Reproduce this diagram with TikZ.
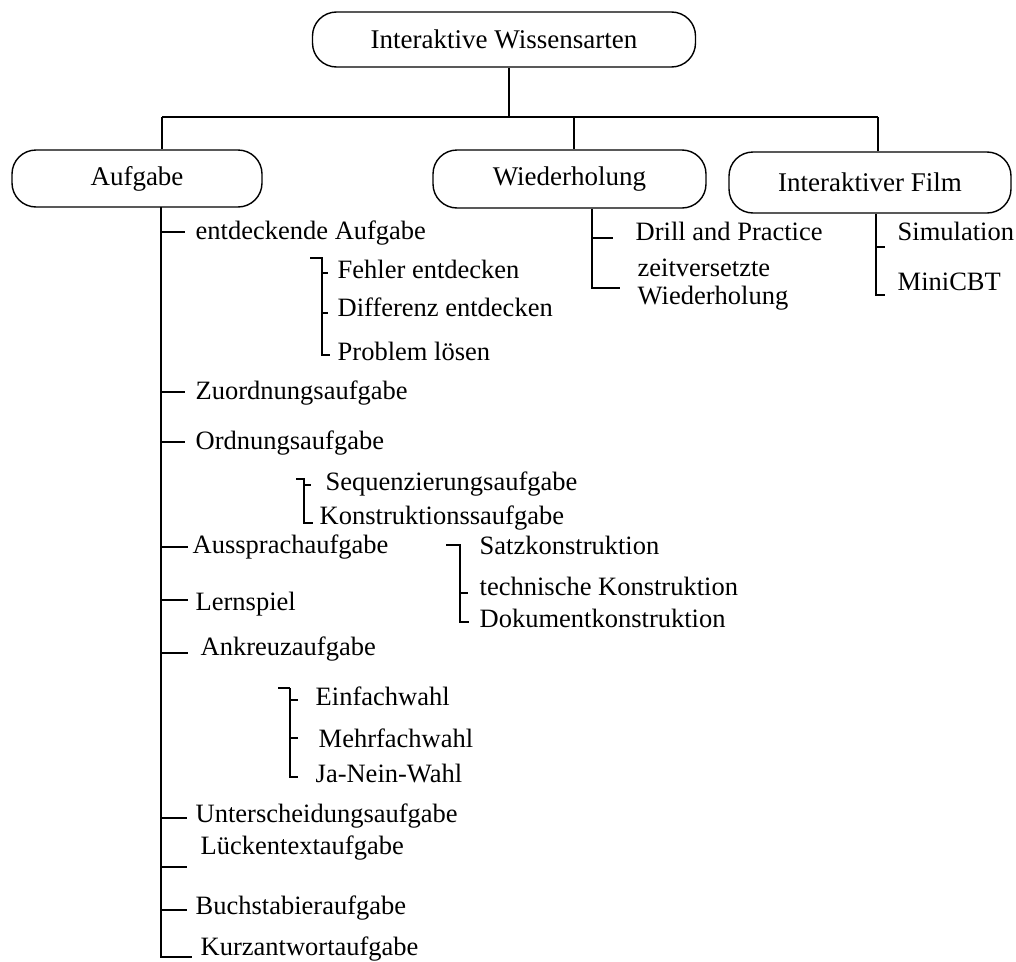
\documentclass[tikz,border=0pt]{standalone}
\usepackage{fontspec}
\setmainfont{Liberation Serif}
\begin{document}
\begin{tikzpicture}[x=1pt,y=-1pt,
  line width=1.4pt,
  box/.style={draw, rounded corners=24pt, line width=1.4pt, font=\fontsize{27}{30}\selectfont, inner sep=0pt},
  item/.style={anchor=west, inner sep=0pt, font=\fontsize{26.5}{30}\selectfont, text height=14pt, text depth=0pt},
  boldline/.style={line width=2.6pt}]
\useasboundingbox (0,0) rectangle (1016,961);

% boxes
\node[box, minimum width=383pt, minimum height=55pt] (top) at (504,39.5) {Interaktive Wissensarten};
\node[box, minimum width=250pt, minimum height=57pt] (aufg) at (137,178.5) {Aufgabe};
\node[box, minimum width=273pt, minimum height=58pt] (wied) at (569.5,179) {Wiederholung};
\node[box, minimum width=282pt, minimum height=61pt] (film) at (870,182.5) {Interaktiver Film};

% bus
\coordinate (hub) at (509,117);
\coordinate (busL) at (162,117);
\coordinate (busM) at (574,117);
\coordinate (busR) at (878,117);
\draw (top.south -| hub) -- (hub);
\draw (busL) -- (busR);
\draw (busL) -- (busL |- aufg.north);
\draw (busM) -- (busM |- wied.north);
\draw (busR) -- (busR |- film.north);

% Aufgabe trunk
\coordinate (trunk) at (161,207);
\coordinate (trunkEnd) at (161,957);
\draw (trunk) -- (trunkEnd) -- (192,957);

% items
\node[item] (ent) at (195,232) {entdeckende Aufgabe};
\node[item] (zuo) at (195,392) {Zuordnungsaufgabe};
\node[item] (ord) at (195,442) {Ordnungsaufgabe};
\node[item] (aus) at (192,546) {Aussprachaufgabe};
\node[item] (ler) at (195,603) {Lernspiel};
\node[item] (ank) at (200,648) {Ankreuzaufgabe};
\node[item] (unt) at (195,815) {Unterscheidungsaufgabe};
\node[item] (lue) at (200,847) {Lückentextaufgabe};
\node[item] (buc) at (195,907) {Buchstabieraufgabe};
\node[item] (kur) at (200,948) {Kurzantwortaufgabe};

\foreach \yy/\xx in {232/185, 392/185, 442/185, 547/188, 600/188, 653/188, 818/187, 867/187, 910/187}
  \draw (161,\yy) -- (\xx,\yy);

% entdeckende group
\node[item] (feh) at (337,271) {Fehler entdecken};
\node[item] (dif) at (337,309) {Differenz entdecken};
\node[item] (pro) at (337,353) {Problem lösen};
\draw (310,258) -- (322,258) -- (322,355) -- (330,355);
\draw (322,273) -- (328,273);
\draw (322,313) -- (328,313);

% Ordnung group
\node[item] (seq) at (325,483) {Sequenzierungsaufgabe};
\node[item] (kon) at (319,517) {Konstruktionssaufgabe};
\draw (296,479) -- (304,479) -- (304,523) -- (313,523);
\draw (304,485) -- (311,485);

% Konstruktion group
\node[item] (sat) at (479,547) {Satzkonstruktion};
\node[item] (tec) at (479,588) {technische Konstruktion};
\node[item] (dok) at (479,620) {Dokumentkonstruktion};
\draw (446,545) -- (460,545) -- (460,622) -- (469,622);
\draw[boldline] (460,545) -- (460,560);
\draw (460,593) -- (468,593);

% Ankreuz group
\node[item] (ein) at (315,698) {Einfachwahl};
\node[item] (meh) at (318,740) {Mehrfachwahl};
\node[item] (jan) at (315,775) {Ja-Nein-Wahl};
\draw (278,688) -- (290,688);
\draw[boldline] (290,688) -- (290,777);
\draw (289,777) -- (298,777);
\draw (290,700) -- (298,700);
\draw (290,738) -- (298,738);

% Wiederholung group
\node[item] (dri) at (635,233) {Drill and Practice};
\node[item] (zei) at (637,269) {zeitversetzte};
\node[item] (zwh) at (637,297) {Wiederholung};
\draw[boldline] (wied.south -| 592,0) -- (592,238);
\draw (592,238) -- (613,238);
\draw (592,238) -- (592,288) -- (620,288);

% Film group
\node[item] (sim) at (897,233) {Simulation};
\node[item] (min) at (897,283) {MiniCBT};
\draw (film.south -| 876,0) -- (876,295) -- (885,295);
\draw (876,247) -- (885,247);
\end{tikzpicture}
\end{document}
